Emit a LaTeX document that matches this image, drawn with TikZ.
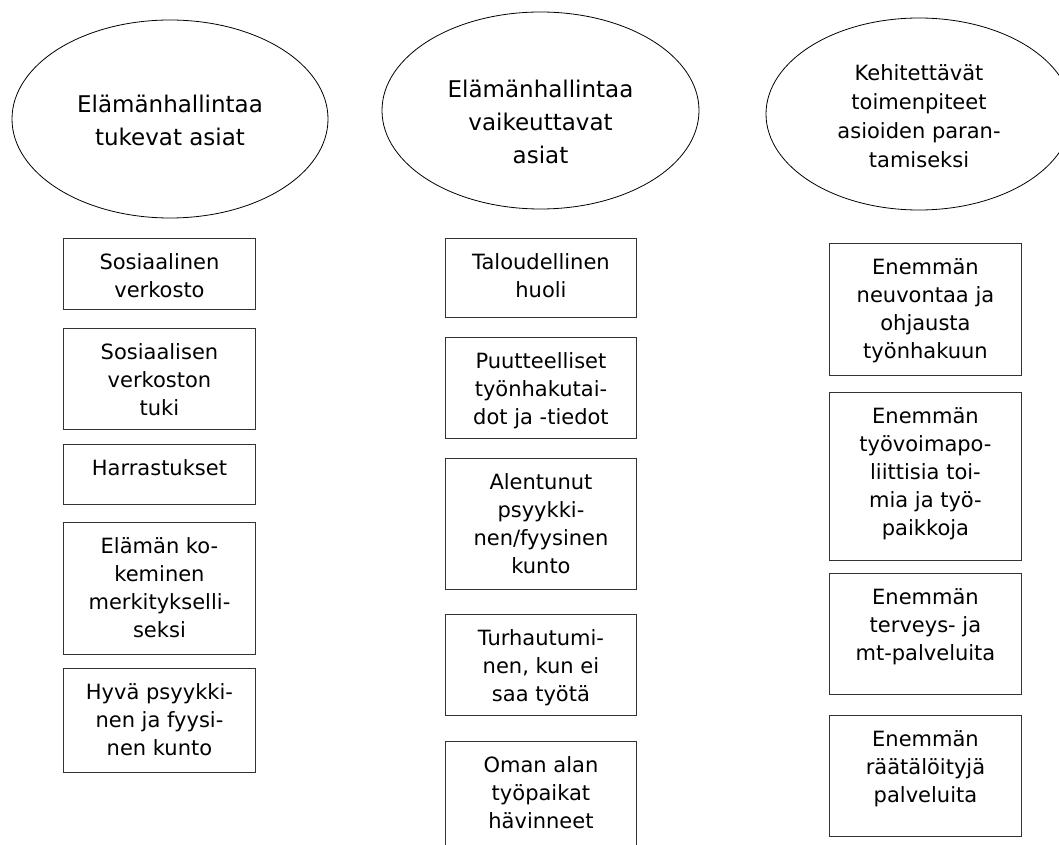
\documentclass[tikz,border=0pt]{standalone}
\usepackage{fontspec}
\setmainfont{DejaVu Sans}
\usetikzlibrary{shapes.geometric}
\definecolor{Frame}{HTML}{333333}
\newcommand{\cellbox}[2]{\parbox[c][#1][t]{186pt}{\centering\rule{0pt}{31pt}#2}}
\tikzset{
  oval/.style={draw=black, line width=0.8pt, ellipse, inner sep=0pt},
  ovaltext/.style={align=center, inner sep=0pt, font=\fontsize{23}{33}\selectfont},
  cell/.style={draw=Frame, line width=0.9pt, anchor=north west, inner sep=0pt,
    minimum width=192pt, font=\fontsize{21}{28}\selectfont},
}

\begin{document}
\begin{tikzpicture}[x=1pt, y=-1pt]
    \useasboundingbox (0,0) rectangle (1059,845);
    \clip (0,0) rectangle (1059,845);

    % headings
    \node[oval, minimum width=316pt, minimum height=198pt] (tukevat) at (170,119) {};
    \node[ovaltext] (tukevatText) at (170,120) {Elämänhallintaa\\tukevat asiat};
    \node[oval, minimum width=317pt, minimum height=197pt] (vaikeuttavat) at (540.5,110.5) {};
    \node[ovaltext] (vaikeuttavatText) at (540.5,122) {Elämänhallintaa\\vaikeuttavat\\asiat};
    \node[oval, minimum width=306pt, minimum height=192pt] (kehitettavat) at (919,114) {};
    \node[ovaltext, font=\fontsize{21}{29}\selectfont] (kehitettavatText) at (919,116.5)
        {Kehitettävät\\toimenpiteet\\asioiden paran-\\tamiseksi};

    % column 1
    \node[cell] (tuki1) at (63,238) {\cellbox{71pt}{Sosiaalinen\\verkosto}};
    \node[cell] (tuki2) at (63,328) {\cellbox{101pt}{Sosiaalisen\\verkoston\\tuki}};
    \node[cell] (tuki3) at (63,444) {\cellbox{60pt}{Harrastukset}};
    \node[cell] (tuki4) at (63,522) {\cellbox{132pt}{Elämän ko-\\keminen\\merkitykselli-\\seksi}};
    \node[cell] (tuki5) at (63,668) {\cellbox{104pt}{Hyvä psyykki-\\nen ja fyysi-\\nen kunto}};

    % column 2
    \node[cell, minimum width=191pt] (vaik1) at (445,238) {\cellbox{79pt}{Taloudellinen\\huoli}};
    \node[cell, minimum width=191pt] (vaik2) at (445,337) {\cellbox{101pt}{Puutteelliset\\työnhakutai-\\dot ja -tiedot}};
    \node[cell, minimum width=191pt] (vaik3) at (445,458) {\cellbox{131pt}{Alentunut\\psyykki-\\nen/fyysinen\\kunto}};
    \node[cell, minimum width=191pt] (vaik4) at (445,614) {\cellbox{101pt}{Turhautumi-\\nen, kun ei\\saa työtä}};
    \node[cell, minimum width=191pt] (vaik5) at (445,741) {\cellbox{120pt}{Oman alan\\työpaikat\\hävinneet}};

    % column 3
    \node[cell] (kehit1) at (829,243) {\cellbox{132pt}{Enemmän\\neuvontaa ja\\ohjausta\\työnhakuun}};
    \node[cell] (kehit2) at (829,392) {\cellbox{168pt}{Enemmän\\työvoimapo-\\liittisia toi-\\mia ja työ-\\paikkoja}};
    \node[cell] (kehit3) at (829,573) {\cellbox{121pt}{Enemmän\\terveys- ja\\mt-palveluita}};
    \node[cell] (kehit4) at (829,715) {\cellbox{121pt}{Enemmän\\räätälöityjä\\palveluita}};
\end{tikzpicture}
\end{document}
